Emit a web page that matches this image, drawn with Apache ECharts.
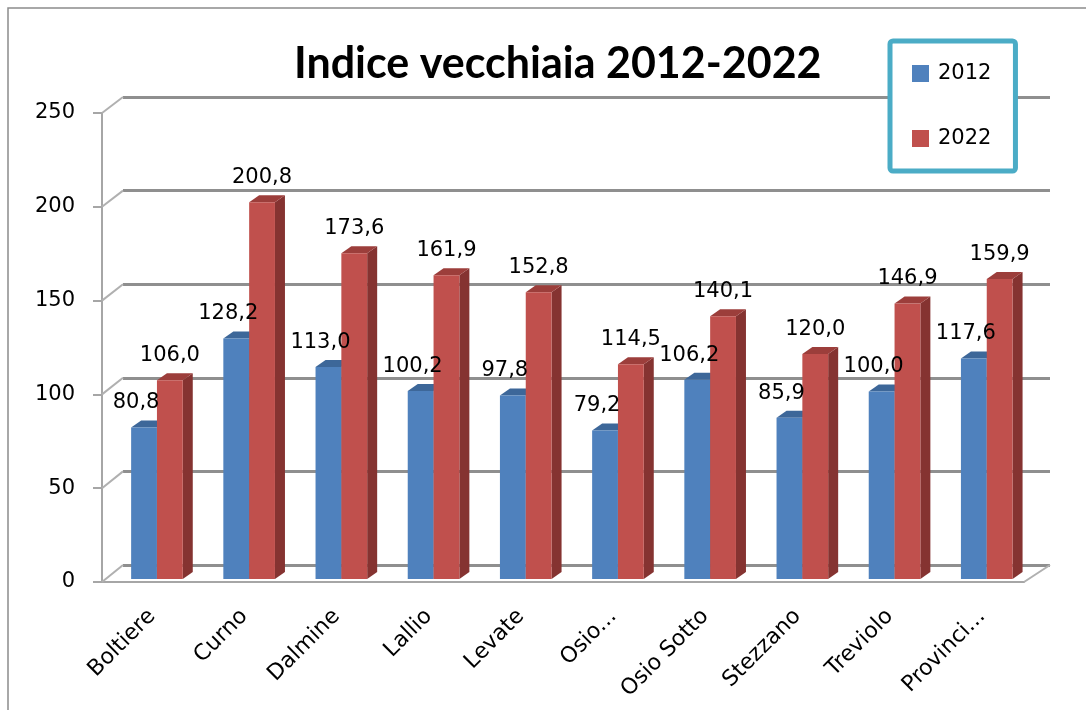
<!DOCTYPE html>
<html>
<head>
<meta charset="utf-8">
<script src="https://cdn.jsdelivr.net/npm/echarts@6/dist/echarts.min.js"></script>
<style>
html,body{margin:0;padding:0;background:#fff;}
#main{width:1086px;height:710px;}
</style>
</head>
<body>
<div id="main"></div>
<script>
// dati: indice di vecchiaia
var comuni = ['Boltiere','Curno','Dalmine','Lallio','Levate','Osio...','Osio Sotto','Stezzano','Treviolo','Provinci...'];
var anni = ['2012','2022'];
var val2012 = [80.8,128.2,113.0,100.2,97.8,79.2,106.2,85.9,100.0,117.6];
var val2022 = [106.0,200.8,173.6,161.9,152.8,114.5,140.1,120.0,146.9,159.9];
var yTicks = [0,50,100,150,200,250];

var FONT = 'DejaVu Sans';
// colori facce: fronte, lato, sopra
var faces = [
    {front:'#4f81bd', side:'#37598a', top:'#3d6799'},
    {front:'#c0504d', side:'#853331', top:'#9c3e3b'}
];

function fmt(v){ return v.toFixed(1).replace('.', ','); }

// geometria comune della barra
function barBox(s, api){
    var i = api.value(0), v = api.value(1);
    var band = api.size([1, 0])[0];
    var c = api.coord([i, v]), b = api.coord([i, 0]);
    var w = band * 0.28;
    return {v: v, x: c[0] - band * 0.184 + s * w, w: w, yt: c[1] - 3, yb: b[1] - 3};
}

function makeRender(s){
    return function(params, api){
        var g = barBox(s, api), x = g.x, w = g.w, yt = g.yt, yb = g.yb;
        var dx = 10, dy = 7;
        var f = faces[s];
        return {
            type: 'group',
            children: [
                {type:'polygon', shape:{points:[[x+w,yt],[x+w+dx,yt-dy],[x+w+dx,yb-dy],[x+w,yb]]}, style:{fill:f.side}},
                {type:'polygon', shape:{points:[[x,yt],[x+dx,yt-dy],[x+w+dx,yt-dy],[x+w,yt]]}, style:{fill:f.top}},
                {type:'rect', shape:{x:x, y:yt, width:w, height:yb-yt}, style:{fill:f.front}}
            ]
        };
    };
}

function makeLabel(s){
    return function(params, api){
        var g = barBox(s, api);
        var lx = g.x + g.w / 2 + (s === 0 ? -8 : 0);
        return {type:'text', x:lx, y:g.yt-14,
            style:{text:fmt(g.v), fill:'#000', font:'21px "' + FONT + '"', align:'center', verticalAlign:'bottom'}};
    };
}

var chart = echarts.init(document.getElementById('main'));
var axisGray = '#a6a6a6';
var d2012 = val2012.map(function(v, i){ return [i, v]; });
var d2022 = val2022.map(function(v, i){ return [i, v]; });

var option = {
    backgroundColor: '#fff',
    animation: false,
    title: {
        text: 'Indice vecchiaia 2012-2022',
        left: 289,
        top: 38,
        textStyle: {fontFamily: 'Lato', fontWeight: 'bold', fontSize: 43, color: '#000'}
    },
    legend: {
        data: anni,
        orient: 'vertical',
        left: 890,
        top: 41,
        padding: [22, 24, 22, 22],
        itemGap: 44,
        itemWidth: 17,
        itemHeight: 17,
        icon: 'rect',
        backgroundColor: '#fff',
        borderColor: '#4bacc6',
        borderWidth: 5,
        borderRadius: 3,
        textStyle: {fontFamily: FONT, fontSize: 21, color: '#000', padding: [0, 0, 0, 4]}
    },
    grid: [
        {left: 102, right: 62, top: 113, bottom: 128},   // fronte
        {left: 123, right: 36, top: 97, bottom: 145},    // parete di fondo
        {left: 106, right: 58, top: 113, bottom: 128}    // etichette categorie
    ],
    xAxis: [
        {gridIndex: 0, type: 'category', data: comuni,
         axisLine: {lineStyle: {color: axisGray, width: 2}},
         axisTick: {length: 8, lineStyle: {color: axisGray, width: 2}},
         axisLabel: {show: false}},
        {gridIndex: 1, type: 'category', data: comuni, show: false},
        {gridIndex: 2, type: 'category', data: comuni,
         axisLine: {show: false}, axisTick: {show: false},
         axisLabel: {rotate: 45, margin: 31, interval: 0, fontFamily: FONT, fontSize: 22, color: '#000'}}
    ],
    yAxis: [
        {gridIndex: 0, type: 'value', min: 0, max: 250, interval: 50,
         axisLine: {show: true, lineStyle: {color: axisGray, width: 2}},
         axisTick: {show: true, length: 9, lineStyle: {color: axisGray, width: 2}},
         axisLabel: {margin: 27, fontFamily: FONT, fontSize: 21, color: '#000'},
         splitLine: {show: false}},
        {gridIndex: 1, type: 'value', min: 0, max: 250, interval: 50,
         axisLine: {show: false}, axisTick: {show: false}, axisLabel: {show: false},
         splitLine: {show: true, lineStyle: {color: '#8f8f8f', width: 3}}},
        {gridIndex: 2, type: 'value', min: 0, max: 250, show: false}
    ],
    series: [
        {name: anni[0], type: 'custom', xAxisIndex: 0, yAxisIndex: 0,
         itemStyle: {color: faces[0].front},
         renderItem: makeRender(0), encode: {x: 0, y: 1}, data: d2012, z: 3},
        {name: anni[1], type: 'custom', xAxisIndex: 0, yAxisIndex: 0,
         itemStyle: {color: faces[1].front},
         renderItem: makeRender(1), encode: {x: 0, y: 1}, data: d2022, z: 4},
        // etichette dei valori sopra tutte le barre
        {type: 'custom', xAxisIndex: 0, yAxisIndex: 0, silent: true,
         renderItem: makeLabel(0), encode: {x: 0, y: 1}, data: d2012, z: 6},
        {type: 'custom', xAxisIndex: 0, yAxisIndex: 0, silent: true,
         renderItem: makeLabel(1), encode: {x: 0, y: 1}, data: d2022, z: 6},
        // serie vuota per la griglia delle etichette di categoria
        {type: 'custom', xAxisIndex: 2, yAxisIndex: 2, silent: true,
         renderItem: function(){ return null; }, data: []}
    ]
};
chart.setOption(option);

// raccordi 3D tra assi frontali e parete di fondo
var extra = [];
yTicks.forEach(function(t){
    var p0 = chart.convertToPixel({yAxisIndex: 0}, t);
    var p1 = chart.convertToPixel({yAxisIndex: 1}, t);
    extra.push({type: 'line', z: 1, shape: {x1: 102, y1: p0, x2: 123, y2: p1},
        style: {stroke: '#b0b0b0', lineWidth: 2}});
});
var yb0 = chart.convertToPixel({yAxisIndex: 0}, 0);
var yb1 = chart.convertToPixel({yAxisIndex: 1}, 0);
extra.push({type: 'line', z: 1, shape: {x1: 1024, y1: yb0, x2: 1050, y2: yb1},
    style: {stroke: '#b0b0b0', lineWidth: 2}});
extra.push({type: 'rect', z: 0, shape: {x: 8, y: 8, width: 1200, height: 1000},
    style: {fill: null, stroke: '#8c8c8c', lineWidth: 1.5}});
chart.setOption({graphic: extra});
</script>
</body>
</html>
